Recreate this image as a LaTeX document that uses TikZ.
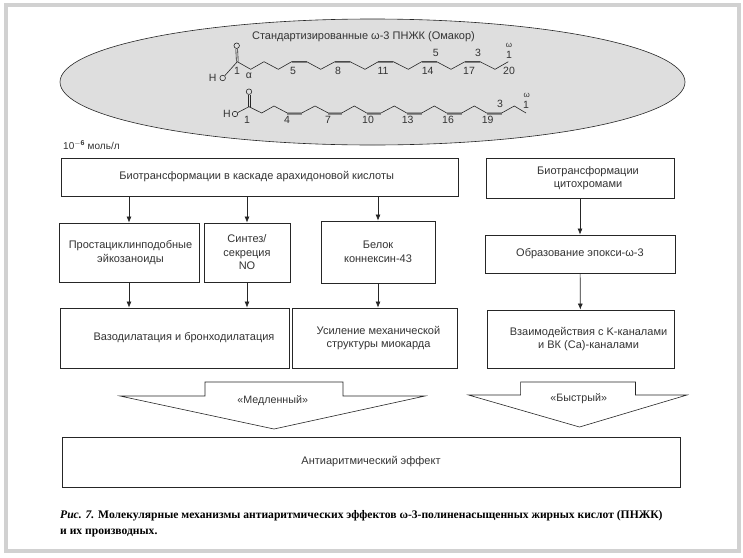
\documentclass[tikz,border=0pt]{standalone}
\usepackage{fontspec}
\setmainfont{Liberation Sans}
\newfontfamily\capfont{Liberation Serif}
\usepackage{tikz}
\usetikzlibrary{arrows.meta,calc,positioning,shapes.geometric}

\begin{document}
\begin{tikzpicture}[
  x=1pt, y=-1pt,
  every node/.style={font=\fontsize{11}{13.5}\selectfont, text=black!80},
  box/.style={draw=black!85, line width=0.8pt, minimum height=1cm, align=center, inner sep=0pt},
  arr/.style={-{Latex[length=6pt,width=5pt]}, draw=black!85, line width=0.7pt},
  bigarr/.style={draw=black!85, line width=0.6pt, fill=white},
  bond/.style={draw=black!85, line width=0.6pt},
  dbl/.style={draw=black!45, line width=2pt},
  atom/.style={draw=black!85, circle, line width=0.6pt, minimum size=5.5pt, inner sep=0pt},
  num/.style={font=\fontsize{10.5}{11}\selectfont, inner sep=0pt},
  omg/.style={font=\fontsize{8}{8}\selectfont, inner sep=0pt},
]
\useasboundingbox (0,0) rectangle (743,557);
\fill[white] (0,0) rectangle (743,557);

% frame
\draw[black!18, line width=4pt] (6,5) rectangle (739,551);

% upper part
\node[ellipse, draw=black!85, fill=black!13, line width=0.6pt, minimum width=625pt, minimum height=126pt,
  inner sep=0pt] (OVAL) at (372.5,82) {};
\node (TITLE) at (363.5,36.5) {Стандартизированные ω-3 ПНЖК (Омакор)};

% chain 1
\node[atom] (O1) at (236.7,45.7) {};
\node[atom] (OH1) at (222.7,78) {};
\node[num, left=3pt of OH1] (H1) {H};
\coordinate (C1) at (237.3,61.7);
\draw[dbl] (291.7,61.7) -- (306.7,61.7) (335,61.7) -- (350,61.7) (378.3,61.7) -- (393.3,61.7)
  (421.7,61.7) -- (436.7,61.7) (465,61.7) -- (480,61.7);
\draw[bond] ($(O1.south)+(-0.9,0)$) -- ($(C1)+(-0.9,0)$) ($(O1.south)+(0.9,0)$) -- ($(C1)+(0.9,0)$);
\draw[bond] (OH1) -- (C1) -- (250.7,69.3) -- (264,61.7) -- (278.3,69.3) -- (291.7,61.7) -- (306.7,61.7)
  -- (320.7,69.3) -- (335,61.7) -- (350,61.7) -- (365,69.3) -- (378.3,61.7) -- (393.3,61.7) -- (408.3,69.3)
  -- (421.7,61.7) -- (436.7,61.7) -- (451,69.3) -- (465,61.7) -- (480,61.7) -- (495,69.3) -- (508.3,61.7);
\foreach \nx/\ny/\nt in {237/71/1, 249/76/α, 293/71/5, 338/71/8, 383/71/11, 427.7/71/14, 469/71/17,
  509/71/20, 435.7/53/5, 478/53/3, 509/54.5/1}
  \node[num] at (\nx,\ny) {\nt};
\node[omg] (W1) at (509,45) {ω};

% chain 2
\node[atom] (O2) at (249,91.7) {};
\node[atom] (OH2) at (235,114) {};
\node[num, left=1pt of OH2] (H2) {H};
\coordinate (C2) at (249,106.7);
\draw[dbl] (287.3,113.8) -- (301.7,113.8) (328.3,113.8) -- (341.7,113.8) (366.7,113.8) -- (381,113.8)
  (406.7,113.8) -- (421.7,113.8) (446.7,113.8) -- (461.7,113.8) (486.7,113.8) -- (501.7,113.8);
\draw[bond] ($(O2.south)+(-0.9,0)$) -- ($(C2)+(-0.9,0)$) ($(O2.south)+(0.9,0)$) -- ($(C2)+(0.9,0)$);
\draw[bond] (OH2) -- (C2) -- (261.7,113) -- (274,106) -- (287.3,113) -- (301.7,113) -- (315,106)
  -- (328.3,113) -- (341.7,113) -- (354.3,106) -- (366.7,113) -- (381,113) -- (394.3,106) -- (406.7,113)
  -- (421.7,113) -- (434.3,106) -- (446.7,113) -- (461.7,113) -- (474.3,106) -- (486.7,113) -- (501.7,113)
  -- (514.3,106) -- (526,113);
\foreach \nx/\ny/\nt in {247/119.5/1, 287/119.5/4, 328/119.5/7, 368/119.5/10, 407.7/119.5/13, 448/119.5/16,
  487.7/119.5/19, 500/104/3, 526/105/1}
  \node[num] at (\nx,\ny) {\nt};
\node[omg] (W2) at (526.7,95.5) {ω};

\node[anchor=west, inner sep=0pt, font=\fontsize{10}{12}\selectfont] (CONC) at (63,145) {10$^{\mathbf{-6}}$ моль/л};

% boxes
\node[box, minimum width=396.5pt, minimum height=38pt] (CASC) at (259.75,177) {\hspace*{-6pt}Биотрансформации в каскаде арахидоновой кислоты};
\node[box, minimum width=140pt, minimum height=59pt] (PROST) at (129,252.5) {\hspace*{3pt}Простациклинподобные\\\hspace*{3pt}эйкозаноиды};
\node[box, minimum width=86pt, minimum height=59pt] (SYN) at (247,252.5) {Синтез/\\секреция\\NO};
\node[box, minimum width=114pt, minimum height=62pt] (CX) at (378,252) {Белок\\коннексин-43};
\node[box, minimum width=229pt, minimum height=60pt] (VASO) at (174.5,338) {\hspace*{19pt}Вазодилатация и бронходилатация};
\node[box, minimum width=165pt, minimum height=60pt] (MECH) at (374.5,338) {\hspace*{8pt}Усиление механической\\\hspace*{8pt}структуры миокарда};
\node[box, minimum width=188pt, minimum height=40pt] (CYP) at (580,178) {\hspace*{16pt}Биотрансформации\\\hspace*{16pt}цитохромами};
\node[box, minimum width=190pt, minimum height=38pt] (EPOX) at (580,254) {Образование эпокси-ω-3};
\node[box, minimum width=187pt, minimum height=58pt] (KCH) at (580.5,339) {\hspace*{16pt}Взаимодействия с K-каналами\\\hspace*{16pt}и ВК (Са)-каналами};
\node[box, minimum width=618pt, minimum height=50pt] (ANTI) at (371,462) {Антиаритмический эффект};

% big arrows
\draw[bigarr] (120,396) -- (205,396) -- (205,382) -- (343,382) -- (343,396) -- (425,396) -- (274,429) -- cycle;
\draw[bigarr] (468.5,395) -- (520.6,395) -- (520.6,382) -- (635.5,382) -- (635.5,395) -- (687,395) -- (579.5,427) -- cycle;
\node[font=\fontsize{10.7}{12}\selectfont] (SLOW) at (272.7,400.5) {«Медленный»};
\node[font=\fontsize{10.7}{12}\selectfont] (FAST) at (578.7,399) {«Быстрый»};

% connectors
\draw[arr] (CASC.south -| PROST) -- (PROST);
\draw[arr] (CASC.south -| SYN) -- (SYN);
\draw[arr] (CASC.south -| CX) -- (CX);
\draw[arr] (PROST) -- (PROST |- VASO.north);
\draw[arr] (SYN) -- (SYN |- VASO.north);
\draw[arr] (CX) -- (CX |- MECH.north);
\draw[arr] (CYP) -- (EPOX);
\draw[arr] (EPOX) -- (KCH);

% caption
\node[anchor=north west, inner sep=0pt, align=left, font=\capfont\bfseries\fontsize{11.6}{16}\selectfont, text=black]
  (CAPTION) at (60,510.5) {\textit{Рис. 7.} Молекулярные механизмы антиаритмических эффектов ω-3-полиненасыщенных жирных кислот (ПНЖК)\\и их производных.};
\end{tikzpicture}
\end{document}
